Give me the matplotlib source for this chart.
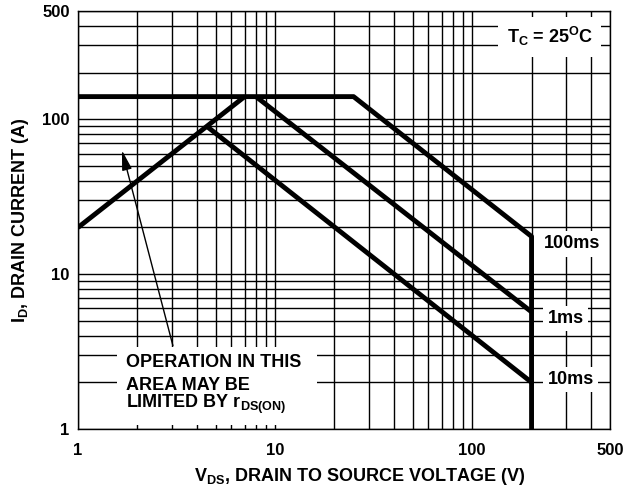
import numpy as np
import matplotlib.pyplot as plt
from matplotlib.ticker import NullFormatter
from matplotlib.patches import Rectangle

plt.rcParams['font.family'] = ['Liberation Sans', 'DejaVu Sans']
plt.rcParams['font.weight'] = 'bold'
plt.rcParams['axes.labelweight'] = 'bold'
plt.rcParams['mathtext.fontset'] = 'custom'
plt.rcParams['mathtext.rm'] = 'Liberation Sans:bold'
plt.rcParams['mathtext.it'] = 'Liberation Sans:bold'
plt.rcParams['mathtext.bf'] = 'Liberation Sans:bold'

# safe operating area curves (V, A)
limit_v = [1, 7]
limit_i = [20, 140]
curve_100ms_v = [1, 25, 200, 200]
curve_100ms_i = [140, 140, 17.5, 1]
curve_1ms_v = [8, 200]
curve_1ms_i = [140, 5.7]
curve_10ms_v = [4.5, 200]
curve_10ms_i = [90, 2.0]

x_ticks = [1, 10, 100, 500]
y_ticks = [1, 10, 100, 500]

fig = plt.figure(figsize=(6.38, 4.91), dpi=100)
ax = fig.add_axes([0.1223, 0.1263, 0.8338, 0.8513])
ax.set_xscale('log')
ax.set_yscale('log')
ax.set_xlim(1, 500)
ax.set_ylim(1, 500)

ax.set_xticks(x_ticks, labels=[str(t) for t in x_ticks])
ax.set_yticks(y_ticks, labels=[str(t) for t in y_ticks])
ax.xaxis.set_minor_formatter(NullFormatter())
ax.yaxis.set_minor_formatter(NullFormatter())
ax.tick_params(which='both', length=0, labelsize=12)
ax.tick_params(axis='x', pad=10)
ax.tick_params(axis='y', pad=6)
ax.grid(which='both', color='black', lw=1.0, zorder=0)
ax.set_axisbelow(True)
for s in ax.spines.values():
    s.set_linewidth(1.0)

lw = 3.5
ax.plot(limit_v, limit_i, color='black', lw=lw, zorder=4, solid_capstyle='butt')
ax.plot(curve_100ms_v, curve_100ms_i, color='black', lw=lw, zorder=4, solid_capstyle='butt', clip_on=False)
ax.plot(curve_1ms_v, curve_1ms_i, color='black', lw=lw, zorder=4, solid_capstyle='butt')
ax.plot(curve_10ms_v, curve_10ms_i, color='black', lw=lw, zorder=4, solid_capstyle='butt')

# note box
ax.add_patch(Rectangle((0.073, 0.0096), 0.376, 0.186, transform=ax.transAxes,
                       facecolor='white', edgecolor='none', zorder=2))
tsize = 13
ax.text(0.0902, 0.149, 'OPERATION IN THIS', transform=ax.transAxes, fontsize=tsize,
        va='baseline', ha='left', zorder=3)
ax.text(0.0902, 0.0933, 'AREA MAY BE', transform=ax.transAxes, fontsize=tsize,
        va='baseline', ha='left', zorder=3)
ax.text(0.0902, 0.0502, r'LIMITED BY r$_{DS(ON)}$', transform=ax.transAxes, fontsize=tsize,
        va='baseline', ha='left', zorder=3)
ax.annotate('', xy=(1.67, 63), xytext=(3.03, 3.45),
            arrowprops=dict(arrowstyle='-|>,head_length=0.6,head_width=0.15',
                            mutation_scale=20, lw=1.0, color='black',
                            shrinkA=0, shrinkB=0), zorder=3)

box = dict(facecolor='white', edgecolor='none', pad=3)
ax.text(0.887, 0.9385, r'T$_C$ = 25$^O$C', transform=ax.transAxes, fontsize=tsize,
        ha='center', va='center', bbox=dict(facecolor='white', edgecolor='none', pad=6), zorder=3)
ax.text(0.928, 0.4426, '100ms', transform=ax.transAxes, fontsize=tsize,
        ha='center', va='center', bbox=box, zorder=3)
ax.text(0.9167, 0.2648, '1ms', transform=ax.transAxes, fontsize=tsize,
        ha='center', va='center', bbox=box, zorder=3)
ax.text(0.926, 0.119, '10ms', transform=ax.transAxes, fontsize=tsize,
        ha='center', va='center', bbox=box, zorder=3)

ax.set_xlabel(r'V$_{DS}$, DRAIN TO SOURCE VOLTAGE (V)', fontsize=13, x=0.53, labelpad=6)
ax.set_ylabel(r'I$_D$, DRAIN CURRENT (A)', fontsize=13, labelpad=8)

fig.savefig('out.png', dpi=100)
